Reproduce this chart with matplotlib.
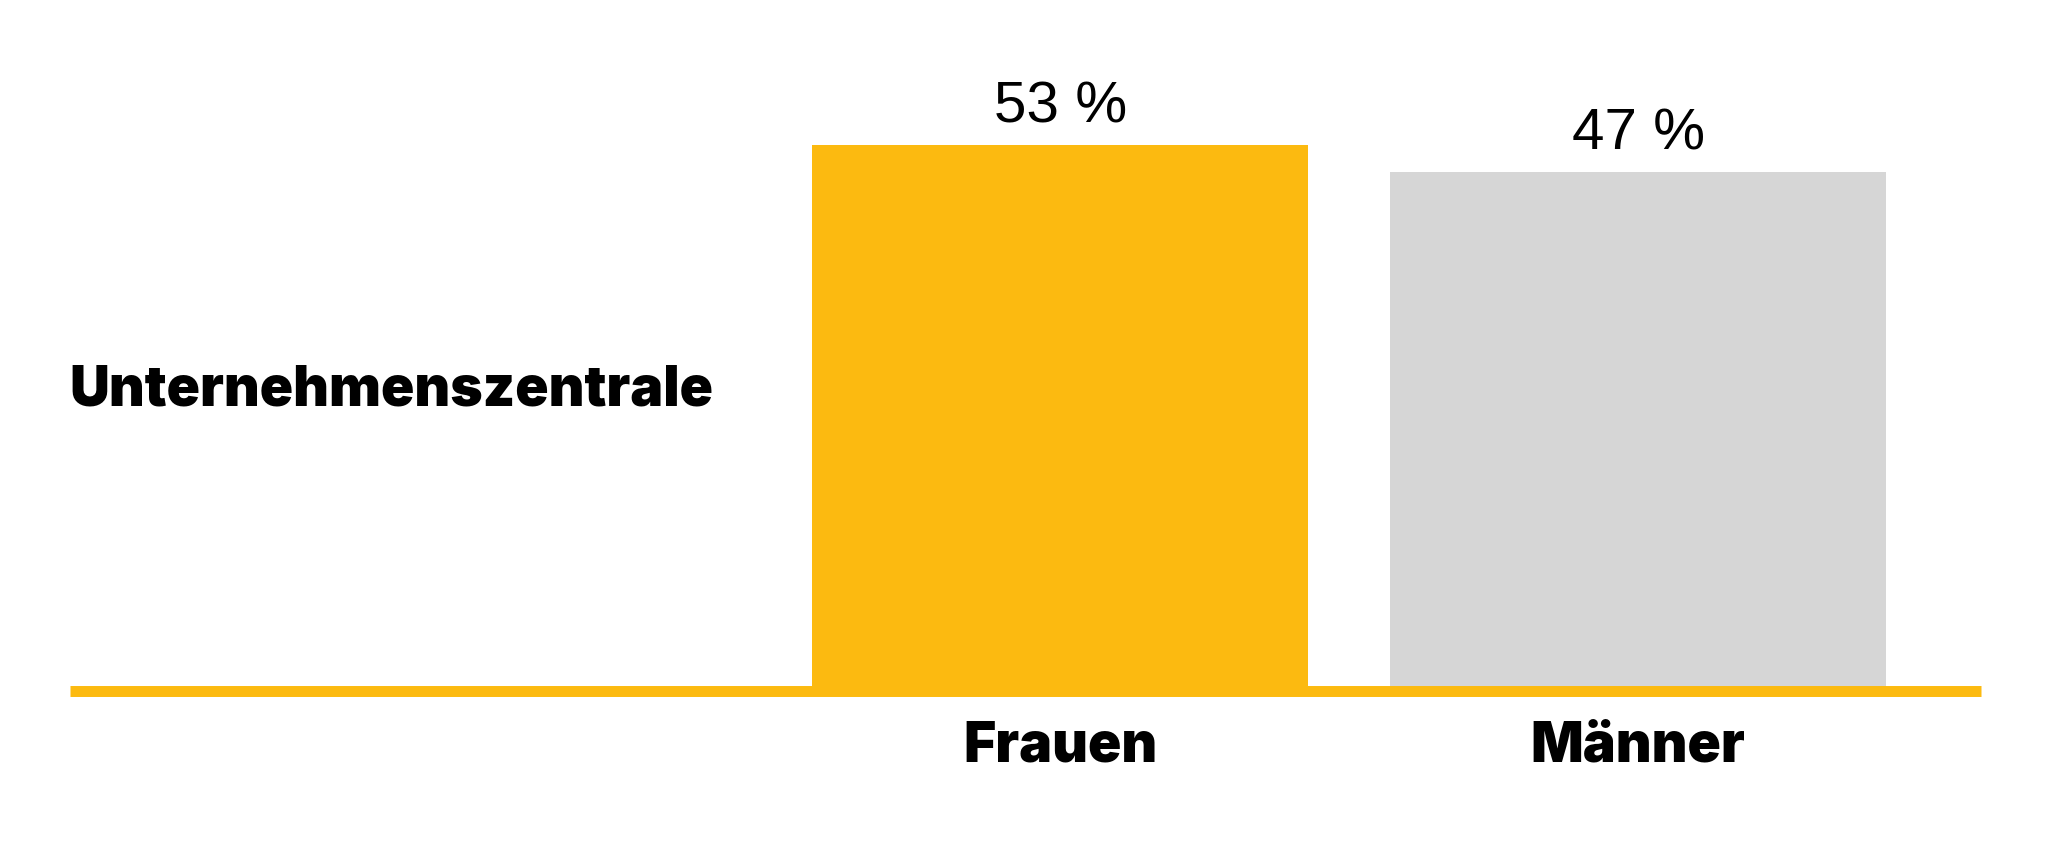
import numpy as np
import matplotlib.pyplot as plt
from matplotlib.transforms import blended_transform_factory

# data
categories = ['Frauen', 'Männer']
shares = [53, 47]
value_labels = ['53 %', '47 %']
row_label = 'Unternehmenszentrale'

colors = ['#FCBA10', '#D6D6D6']
base = -69.6        # the original draws its bars from below zero
bold_font = ['Inter', 'DejaVu Sans']

fig = plt.figure(figsize=(20.48, 8.54), dpi=100)
ax = fig.add_axes([70 / 2048, 1 - 691.5 / 854, (1981 - 70) / 2048, (691.5 - 20) / 854])

x = np.arange(len(categories))
ax.bar(x, np.array(shares) - base, bottom=base, width=0.858, color=colors, zorder=1)
ax.axhline(base, color=colors[0], lw=7.9, zorder=2, solid_capstyle='butt', clip_on=False)

ax.set_xlim(-1.713, 1.593)
ax.set_ylim(base, base + (691.5 - 20) / 4.45)
ax.axis('off')

# value labels above the bars
for xi, v, lab in zip(x, shares, value_labels):
    ax.annotate(lab, (xi, v), xytext=(0, 17), textcoords='offset points',
                ha='center', va='baseline', fontsize=42,
                family=['Liberation Sans', 'DejaVu Sans'], color='black')

# category labels under the baseline
tr = blended_transform_factory(ax.transData, ax.transAxes)
for xi, cat in zip(x, categories):
    ax.annotate(cat, (xi, 0), xycoords=tr, xytext=(0, -50.5), textcoords='offset points',
                ha='center', va='baseline', fontsize=39.7, fontweight='black',
                family=bold_font, color='black')

fig.text(69 / 2048, 1 - 405.7 / 854, row_label, ha='left', va='baseline',
         fontsize=39.7, fontweight='black', family=bold_font, color='black')

fig.savefig('out.png', dpi=100, facecolor='white')
